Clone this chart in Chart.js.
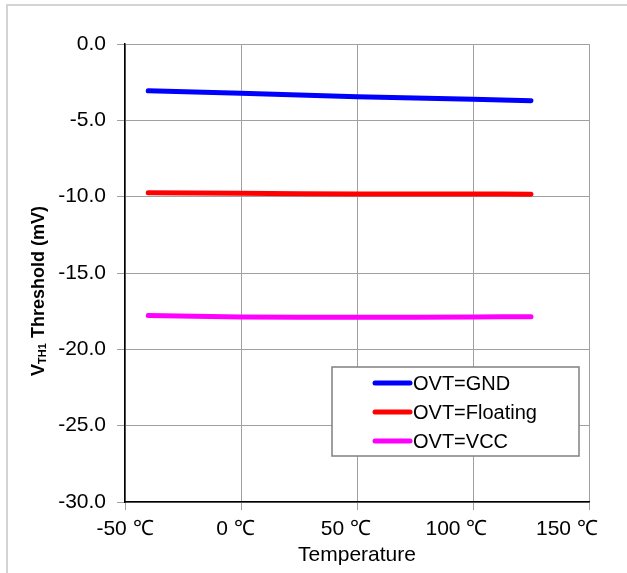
<!DOCTYPE html>
<html>
<head>
<meta charset="utf-8">
<script src="https://cdn.jsdelivr.net/npm/chart.js@4"></script>
<style>
  html, body { margin: 0; padding: 0; background: #fff; }
  #wrap { position: relative; width: 627px; height: 573px; overflow: hidden; }
  #frame { position: absolute; left: 6px; top: 4px; width: 800px; height: 800px;
           border-left: 2px solid #d4d4d4; border-top: 2px solid #d4d4d4; }
  #chart { position: absolute; left: 0; top: 0; }
</style>
</head>
<body>
<div id="wrap">
  <div id="frame"></div>
  <canvas id="chart" width="627" height="573"></canvas>
</div>
<script>
// temperatures (deg C) and threshold readings (mV)
const temps = [-40, 0, 50, 100, 125];
const gndVals = [-3.06, -3.23, -3.45, -3.62, -3.71];
const floatVals = [-9.74, -9.78, -9.82, -9.82, -9.84];
const vccVals = [-17.79, -17.88, -17.90, -17.88, -17.86];

const seriesNames = ['OVT=GND', 'OVT=Floating', 'OVT=VCC'];
const seriesColors = ['#0000ff', '#ff0000', '#ff00ff'];

const xTicks = [-50, 0, 50, 100, 150];
const yTicks = [0, -5, -10, -15, -20, -25, -30];

// the original spreads its x labels a bit tighter than the gridlines,
// so the labels sit on their own axis with a slightly wider range
const labelAxisMax = 160;

const FONT = "'Liberation Sans', Arial, sans-serif";

function toPoints(vals) {
  return temps.map((t, i) => ({ x: t, y: vals[i] }));
}

const datasets = [gndVals, floatVals, vccVals].map((vals, i) => ({
  label: seriesNames[i],
  data: toPoints(vals),
  borderColor: seriesColors[i],
  backgroundColor: seriesColors[i],
  borderWidth: 5,
  borderCapStyle: 'round',
  pointRadius: 0,
  tension: 0.3,
  fill: false
}));

// y axis title with subscript
const yTitlePlugin = {
  id: 'yTitle',
  afterDraw(chart) {
    const ctx = chart.ctx;
    const parts = [
      { t: 'V', size: 18, dy: 0 },
      { t: 'TH1', size: 11, dy: 4 },
      { t: ' Threshold (mV)', size: 18, dy: 0 }
    ];
    ctx.save();
    let total = 0;
    parts.forEach(p => {
      ctx.font = 'bold ' + p.size + 'px ' + FONT;
      p.w = ctx.measureText(p.t).width;
      total += p.w;
    });
    ctx.translate(39, 291);
    ctx.rotate(-Math.PI / 2);
    ctx.fillStyle = '#000';
    ctx.textBaseline = 'middle';
    let x = -total / 2;
    parts.forEach(p => {
      ctx.font = 'bold ' + p.size + 'px ' + FONT;
      ctx.fillText(p.t, x, p.dy);
      x += p.w;
    });
    ctx.restore();
  }
};

// boxed legend inside the plot
const boxLegendPlugin = {
  id: 'boxLegend',
  afterDatasetsDraw(chart) {
    const ctx = chart.ctx;
    const area = chart.chartArea;
    const bx = area.left + 207, by = area.top + 323, bw = 247, bh = 89;
    ctx.save();
    ctx.fillStyle = '#fff';
    ctx.fillRect(bx, by, bw, bh);
    ctx.strokeStyle = '#808080';
    ctx.lineWidth = 1.5;
    ctx.strokeRect(bx, by, bw, bh);
    ctx.font = '20px ' + FONT;
    ctx.textBaseline = 'middle';
    chart.data.datasets.forEach((ds, i) => {
      const y = by + 16 + i * 29;
      ctx.strokeStyle = ds.borderColor;
      ctx.lineWidth = 5;
      ctx.lineCap = 'round';
      ctx.beginPath();
      ctx.moveTo(bx + 43, y);
      ctx.lineTo(bx + 78, y);
      ctx.stroke();
      ctx.fillStyle = '#000';
      ctx.fillText(ds.label, bx + 81, y + 1);
    });
    ctx.restore();
  }
};

new Chart(document.getElementById('chart').getContext('2d'), {
  type: 'line',
  data: { datasets: datasets },
  options: {
    responsive: false,
    animation: false,
    layout: { padding: { left: 0, top: 44, right: 38, bottom: 0 } },
    plugins: {
      legend: { display: false },
      tooltip: { enabled: false }
    },
    scales: {
      x: {
        type: 'linear',
        position: 'bottom',
        weight: 0,
        min: xTicks[0],
        max: xTicks[xTicks.length - 1],
        afterBuildTicks: s => { s.ticks = xTicks.map(v => ({ value: v })); },
        afterFit: s => { s.height = 8; },
        ticks: { display: false },
        grid: { color: '#a0a0a0', lineWidth: 1, tickLength: 8 },
        border: { color: '#000', width: 1.5 }
      },
      xLabels: {
        type: 'linear',
        position: 'bottom',
        weight: 1,
        min: xTicks[0],
        max: labelAxisMax,
        afterBuildTicks: s => { s.ticks = xTicks.map(v => ({ value: v })); },
        afterFit: s => { s.height = 63; },
        ticks: {
          color: '#000',
          font: { family: FONT, size: 21 },
          padding: 7,
          maxRotation: 0,
          autoSkip: false,
          callback: v => v + ' ℃'
        },
        grid: { display: false, drawTicks: false, tickLength: 0 },
        border: { display: false },
        title: {
          display: true,
          text: 'Temperature',
          color: '#000',
          font: { family: FONT, size: 21 },
          padding: { top: 0, bottom: 5 }
        }
      },
      y: {
        min: yTicks[yTicks.length - 1],
        max: yTicks[0],
        afterBuildTicks: s => { s.ticks = yTicks.slice().reverse().map(v => ({ value: v })); },
        afterFit: s => { s.width = 125; },
        ticks: {
          color: '#000',
          font: { family: FONT, size: 21 },
          padding: 11,
          callback: v => v.toFixed(1)
        },
        grid: { color: '#a0a0a0', lineWidth: 1, tickLength: 8 },
        border: { color: '#000', width: 1.5 }
      }
    }
  },
  plugins: [yTitlePlugin, boxLegendPlugin]
});
</script>
</body>
</html>
